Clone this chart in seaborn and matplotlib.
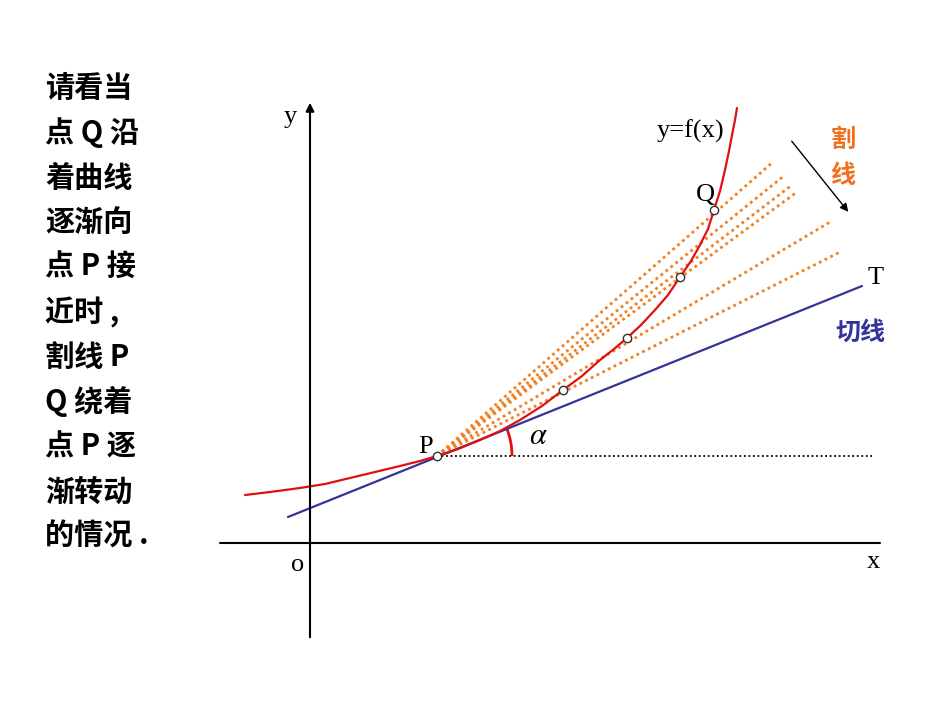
import matplotlib
matplotlib.use("Agg")
import matplotlib.pyplot as plt
import seaborn as sns
import numpy as np
from matplotlib.patches import Arc

sns.set_theme(style="white")
plt.rcParams['font.family'] = ['Noto Sans CJK SC', 'DejaVu Sans']
plt.rcParams['text.color'] = 'black'
plt.rcParams['mathtext.fontset'] = 'stix'

# curve points (pixel space)
curve_x = [245, 270, 300, 325, 350, 375, 400, 420, 437, 458, 480, 500, 520, 542, 563, 582, 600, 614, 627, 641, 655, 668, 680, 691, 700, 708, 714, 720, 725, 729, 733, 735, 737]
curve_y = [495, 492, 488, 484, 478, 472, 466, 461, 456, 449, 440, 431, 420, 406, 390, 376, 360, 349, 338, 325, 310, 295, 277, 261, 245, 229, 210, 191, 170, 151, 130, 120, 108]
tangent_x = [288, 862]
tangent_y = [517, 286]
P = (437, 456)
secant_end_x = [773, 785, 792, 797, 830, 840]
secant_end_y = [162, 175, 185, 192, 222, 252]
marker_x = [714, 680, 627, 563, 437]
marker_y = [210, 277, 338, 390, 456]
text_lines = ["请看当", "点 Q 沿", "着曲线", "逐渐向", "点 P 接", "近时 ,", "割线 P", "Q 绕着", "点 P 逐", "渐转动", "的情况 ."]

fig = plt.figure(figsize=(9.5, 7.13), dpi=100)
ax = fig.add_axes([0, 0, 1, 1])
ax.set_xlim(0, 950); ax.set_ylim(713, 0); ax.axis("off")

ax.plot([220, 880], [543, 543], color="black", lw=1.5)
ax.annotate("", xy=(310, 100), xytext=(310, 640),
            arrowprops=dict(arrowstyle="-|>", color="black", lw=1.5, mutation_scale=12))
ax.plot([P[0], 872], [P[1], P[1]], color="black", lw=1.3, ls=(0, (1, 1.5)))

for ex, ey in zip(secant_end_x, secant_end_y):
    ax.plot([P[0], ex], [P[1], ey], color="#f08020", lw=2, ls=(0, (1, 1.3)))
sns.lineplot(x=tangent_x, y=tangent_y, ax=ax, color="#333399", lw=1.6, sort=False)
sns.lineplot(x=curve_x, y=curve_y, ax=ax, color="#e01010", lw=1.6, sort=False)
ax.scatter(marker_x, marker_y, s=36, facecolor="white", edgecolor="#333333", zorder=5, lw=1)

ang = np.degrees(np.arctan2(tangent_y[0] - tangent_y[1], tangent_x[1] - tangent_x[0]))
ax.add_patch(Arc(P, 150, 150, theta1=-ang, theta2=0, color="#e01010", lw=2))

serif = "Liberation Serif"
ax.text(290, 117, "y", fontsize=19, family=serif, ha="center", va="center")
ax.text(298, 565, "o", fontsize=19, family=serif, ha="center", va="center")
ax.text(873, 562, "x", fontsize=19, family=serif, ha="center", va="center")
ax.text(876, 278, "T", fontsize=19, family=serif, ha="center", va="center")
ax.text(426, 447, "P", fontsize=19, family=serif, ha="center", va="center")
ax.text(705, 195, "Q", fontsize=19, family=serif, ha="center", va="center")
ax.text(690, 131, "y=f(x)", fontsize=19, family=serif, ha="center", va="center")
ax.text(538, 435, r"$\alpha$", fontsize=22, ha="center", va="center")

ax.text(843, 140, "割", fontsize=18, color="#f07020", weight="bold", ha="center", va="center")
ax.text(843, 176, "线", fontsize=18, color="#f07020", weight="bold", ha="center", va="center")
ax.text(860, 333, "切线", fontsize=18, color="#333399", weight="bold", ha="center", va="center")
ax.annotate("", xy=(850, 214), xytext=(790, 139),
            arrowprops=dict(arrowstyle="-|>", color="black", lw=1, mutation_scale=12))

for i, t in enumerate(text_lines):
    ax.text(45, 88 + i * 44.8, t, fontsize=21, weight="bold", ha="left", va="center",
            color="black", family=['Noto Sans CJK SC', 'DejaVu Sans'])

fig.savefig("out.png", dpi=100)
